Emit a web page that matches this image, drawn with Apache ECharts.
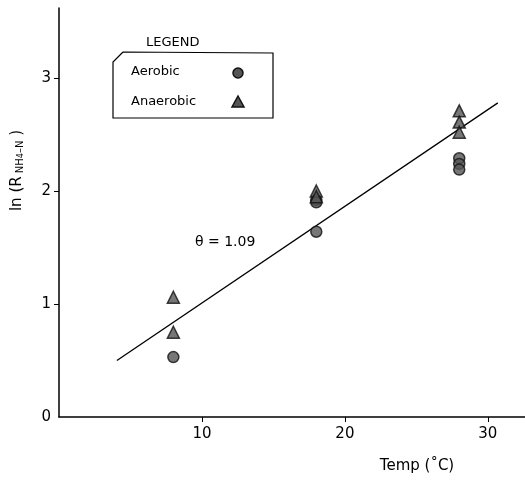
<!DOCTYPE html>
<html>
<head>
<meta charset="utf-8">
<script src="https://cdn.jsdelivr.net/npm/echarts@6/dist/echarts.min.js"></script>
<style>html,body{margin:0;padding:0;background:#fff}#c{width:525px;height:481px}</style>
</head>
<body>
<div id="c"></div>
<script>
// Data
const aerobic = [[8, 0.53], [18, 1.92], [18, 1.90], [18, 1.64], [28, 2.29], [28, 2.24], [28, 2.19]];
const anaerobic = [[8, 1.06], [8, 0.75], [18, 2.0], [18, 1.95], [28, 2.71], [28, 2.61], [28, 2.52]];
const fitLine = [[4.05, 0.50], [30.7, 2.78]];
const xTicks = [10, 20, 30];
const yTicks = [0, 1, 2, 3];
const thetaLabel = 'θ = 1.09';

const FONT = '"DejaVu Sans", sans-serif';
const chart = echarts.init(document.getElementById('c'));
chart.setOption({
  animation: false,
  backgroundColor: '#fff',
  grid: { left: 59, right: 0, top: 8, bottom: 64 },
  xAxis: {
    type: 'value', min: 0, max: 32.6, interval: 10,
    axisLine: { lineStyle: { color: '#000', width: 1.5 } },
    axisTick: { show: true, inside: false, length: 5, lineStyle: { color: '#000', width: 1 },
      customValues: xTicks },
    axisLabel: { color: '#000', fontFamily: FONT, fontSize: 15, margin: 10,
      customValues: xTicks },
    splitLine: { show: false },
    name: 'Temp (˚C)', nameLocation: 'end',
    nameTextStyle: { color: '#000', fontFamily: FONT, fontSize: 15, align: 'center', verticalAlign: 'top',
      padding: [42, 0, 0, 0] },
    nameGap: -108
  },
  yAxis: {
    type: 'value', min: 0, max: 3.62, interval: 1,
    axisLine: { lineStyle: { color: '#000', width: 1.5 } },
    axisTick: { show: true, length: 5, lineStyle: { color: '#000', width: 1 }, customValues: [1, 2, 3] },
    axisLabel: { color: '#000', fontFamily: FONT, fontSize: 15, margin: 8, customValues: yTicks },
    splitLine: { show: false },
    name: '{a|ln (R}{b| NH}{c|4}{b|–N}{a| )}', nameLocation: 'middle', nameRotate: 90, nameGap: 34,
    nameTextStyle: {
      color: '#000', fontFamily: FONT, padding: [0, 0, 0, 84],
      rich: {
        a: { fontSize: 15, fontFamily: FONT, color: '#000' },
        b: { fontSize: 10, fontFamily: FONT, color: '#000', verticalAlign: 'bottom' },
        c: { fontSize: 8, fontFamily: FONT, color: '#000', verticalAlign: 'bottom' }
      }
    }
  },
  series: [
    {
      type: 'line', data: fitLine, symbol: 'none', silent: true,
      lineStyle: { color: '#000', width: 1.3 }, z: 1
    },
    {
      name: 'Aerobic', type: 'scatter', data: aerobic, symbol: 'circle', symbolSize: 11,
      itemStyle: { color: '#555', borderColor: '#111', borderWidth: 1.5 }, z: 3
    },
    {
      name: 'Anaerobic', type: 'scatter', data: anaerobic, symbol: 'triangle', symbolSize: 12,
      itemStyle: { color: '#555', borderColor: '#111', borderWidth: 1.5 }, z: 3
    }
  ],
  graphic: [
    { type: 'polyline', shape: { points: [[123, 52], [273, 53], [273, 118], [113, 118], [113, 62], [123, 52]] },
      style: { stroke: '#000', lineWidth: 1.2, fill: null } },
    { type: 'text', left: 146, top: 36, style: { text: 'LEGEND', font: '13px ' + FONT, fill: '#000' } },
    { type: 'text', left: 131, top: 65, style: { text: 'Aerobic', font: '13px ' + FONT, fill: '#000' } },
    { type: 'text', left: 131, top: 95, style: { text: 'Anaerobic', font: '13px ' + FONT, fill: '#000' } },
    { type: 'circle', shape: { cx: 238, cy: 73, r: 5 }, style: { fill: '#555', stroke: '#111', lineWidth: 1.5 } },
    { type: 'polygon', shape: { points: [[238, 96], [244, 107], [232, 107]] }, style: { fill: '#555', stroke: '#111', lineWidth: 1.5 } },
    { type: 'text', left: 195, top: 235, style: { text: thetaLabel, font: '14px ' + FONT, fill: '#000' } }
  ]
});
</script>
</body>
</html>
